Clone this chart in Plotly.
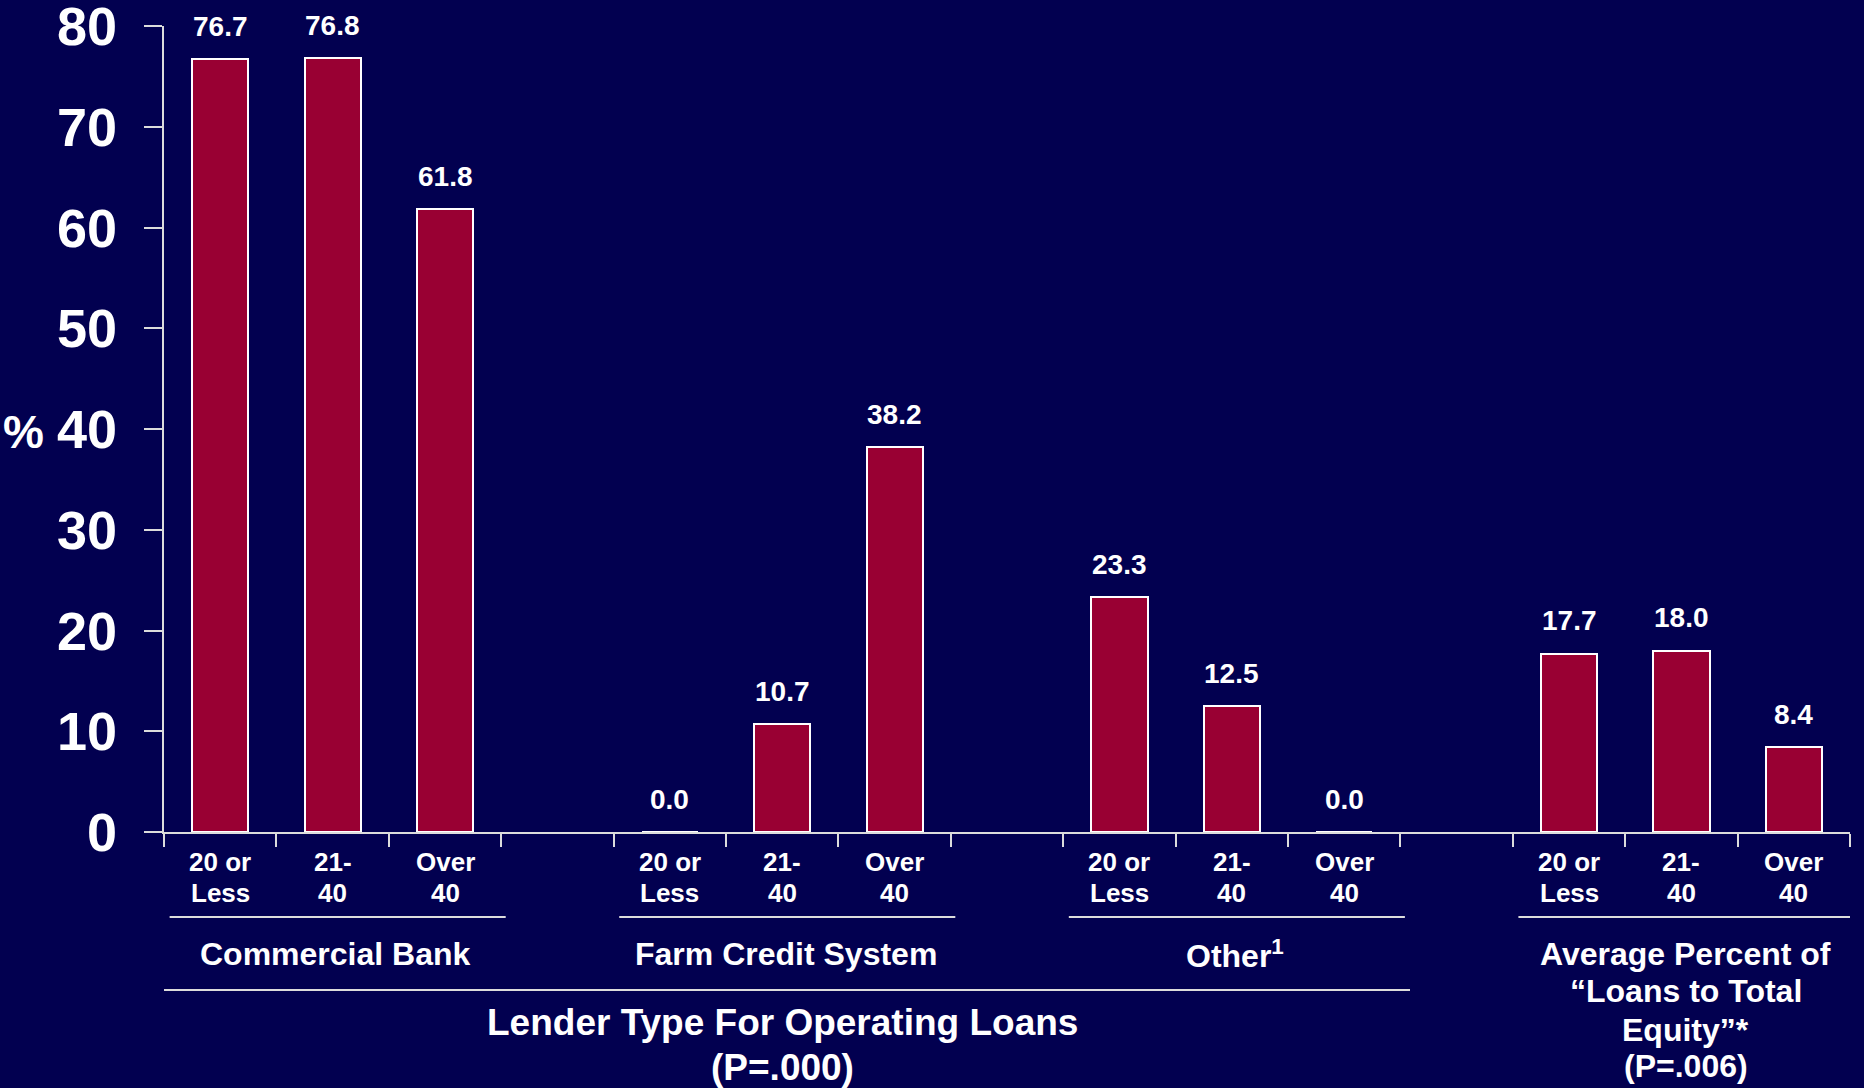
import plotly.graph_objects as go

# ---- data -------------------------------------------------------------
age_groups = ["20 or<br>Less", "21-<br>40", "Over<br>40"]
lender_groups = ["Commercial Bank", "Farm Credit System", "Other<sup>1</sup>"]
commercial_bank = [76.7, 76.8, 61.8]
farm_credit_system = [0.0, 10.7, 38.2]
other_lender = [23.3, 12.5, 0.0]
loans_to_equity = [17.7, 18.0, 8.4]
y_tick_values = [0, 10, 20, 30, 40, 50, 60, 70, 80]

lender_title = ["Lender Type For Operating Loans", "(P=.000)"]
equity_title = ["Average Percent of", "\u201cLoans to Total", "Equity\u201d*", "(P=.006)"]

series = [commercial_bank, farm_credit_system, other_lender, loans_to_equity]

# ---- styling ----------------------------------------------------------
BG = "#020050"
BAR = "#990033"
LINE = "#dcdcdc"
FONT = "Liberation Sans, Arial, sans-serif"

W, H = 1864, 1088
LEFT, RIGHT, TOP, BOTTOM = 164, 1850, 26, 832
SLOT = (RIGHT - LEFT) / 15.0


def paper_y(row):
    """Convert a pixel row of the page into paper y of the plot area."""
    return (BOTTOM - row) / (BOTTOM - TOP)


def paper_x(col):
    """Convert a pixel column of the page into paper x of the plot area."""
    return (col - LEFT) / (RIGHT - LEFT)


def slot_x(col):
    """Convert a pixel column of the page into x-axis units."""
    return (col - LEFT) / SLOT - 0.5


# each group takes three slots followed by one empty spacer slot
xs, ys, texts = [], [], []
for g, vals in enumerate(series):
    for k, v in enumerate(vals):
        xs.append(g * 4 + k)
        ys.append(v)
        texts.append(f"{v:.1f}")

fig = go.Figure()
fig.add_trace(go.Bar(
    x=xs, y=ys, width=0.5,
    marker=dict(color=BAR, line=dict(color="white", width=2)),
    hoverinfo="skip",
))

annotations = []

# value-axis tick labels
for v in y_tick_values:
    annotations.append(dict(
        x=paper_x(119), y=v, xref="paper", yref="y", text=str(v),
        showarrow=False, xanchor="right", yanchor="middle",
        font=dict(family=FONT, size=54, color="white", weight="bold"),
    ))

# value labels above the bars
for x, y, t in zip(xs, ys, texts):
    annotations.append(dict(
        x=x, y=y, xref="x", yref="y", text=t, showarrow=False,
        yanchor="middle", yshift=33,
        font=dict(family=FONT, size=28, color="white", weight="bold"),
    ))

# age-group labels under each bar (two lines each)
for x in xs:
    lines = age_groups[x % 4].split("<br>")
    for line, row in zip(lines, [861.6, 892.6]):
        annotations.append(dict(
            x=x, y=paper_y(row), xref="x", yref="paper", text=line,
            showarrow=False, yanchor="middle",
            font=dict(family=FONT, size=26, color="white", weight="bold"),
        ))

# lender group names
for g, name in enumerate(lender_groups):
    annotations.append(dict(
        x=g * 4 + 1 + 0.03, y=paper_y(953.8), xref="x", yref="paper", text=name,
        showarrow=False, yanchor="middle",
        font=dict(family=FONT, size=32, color="white", weight="bold"),
    ))

# loans-to-equity group title
for line, row in zip(equity_title, [953.8, 990.5, 1029.5, 1065.5]):
    annotations.append(dict(
        x=13.04, y=paper_y(row), xref="x", yref="paper", text=line,
        showarrow=False, yanchor="middle",
        font=dict(family=FONT, size=32, color="white", weight="bold"),
    ))

# overall lender title
for line, row in zip(lender_title, [1022.4, 1067.4]):
    annotations.append(dict(
        x=5.0, y=paper_y(row), xref="x", yref="paper", text=line,
        showarrow=False, yanchor="middle",
        font=dict(family=FONT, size=37, color="white", weight="bold"),
    ))

# percent sign beside the value axis
annotations.append(dict(
    x=paper_x(23), y=paper_y(432), xref="paper", yref="paper",
    text="%", showarrow=False, xanchor="center", yanchor="middle",
    font=dict(family=FONT, size=46, color="white", weight="bold"),
))

shapes = []
# rules under each group of age labels
for g in range(4):
    shapes.append(dict(
        type="line", xref="x", yref="paper",
        x0=g * 4 - 0.5 + 0.05, x1=g * 4 + 2.5 + 0.04,
        y0=paper_y(917), y1=paper_y(917),
        line=dict(color=LINE, width=2),
    ))
# rule spanning the three lender groups
shapes.append(dict(
    type="line", xref="x", yref="paper",
    x0=slot_x(161), x1=slot_x(1410),
    y0=paper_y(990), y1=paper_y(990),
    line=dict(color=LINE, width=2),
))

fig.update_layout(
    width=W, height=H, autosize=False,
    margin=dict(l=LEFT, r=W - RIGHT, t=TOP, b=H - BOTTOM, pad=0),
    paper_bgcolor=BG, plot_bgcolor=BG,
    showlegend=False,
    bargap=0,
    annotations=annotations,
    shapes=shapes,
    xaxis=dict(
        range=[-0.5, 14.5],
        tickmode="array",
        tickvals=[i - 0.5 for i in range(16)],
        showticklabels=False,
        ticks="outside", ticklen=13, tickwidth=2, tickcolor=LINE,
        showline=True, linecolor=LINE, linewidth=2,
        showgrid=False, zeroline=False, fixedrange=True,
    ),
    yaxis=dict(
        range=[0, 80],
        tickmode="array",
        tickvals=y_tick_values,
        showticklabels=False,
        ticks="outside", ticklen=18, tickwidth=2, tickcolor=LINE,
        showline=True, linecolor=LINE, linewidth=2,
        showgrid=False, zeroline=False, fixedrange=True,
    ),
)

fig.write_html("out.html")
